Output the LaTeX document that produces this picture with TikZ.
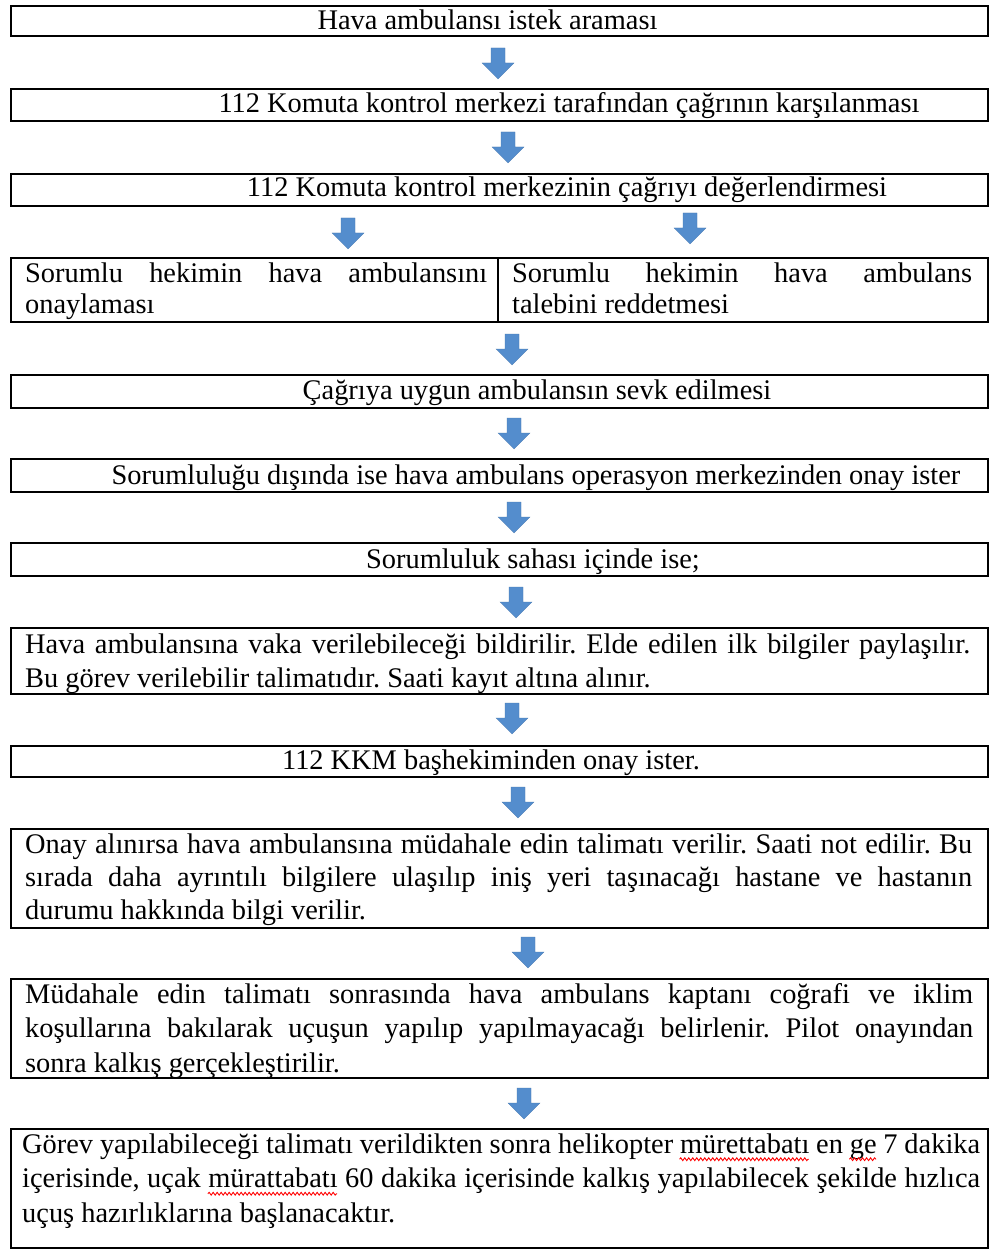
\documentclass[tikz,border=0pt]{standalone}
\usepackage{fontspec}
\setmainfont{Liberation Serif}
\usetikzlibrary{decorations.pathmorphing}
\definecolor{arrblue}{RGB}{84,141,205}
\newlength\sqw
\newcommand{\spellerr}[1]{\settowidth{\sqw}{#1}#1\llap{\tikz[baseline=0pt]\draw[red,line width=0.9pt,decorate,decoration={snake,amplitude=1.4pt,segment length=4pt}](0pt,-6pt)--(\sqw,-6pt);}}
\newcommand{\rs}{\spaceskip=0pt\xspaceskip=0pt\frenchspacing}
\newcommand{\jl}[2]{\makebox[#1][s]{\strut #2}}
\begin{document}
\begin{tikzpicture}[x=1pt,y=-1pt,
  box/.style={draw,line width=1.6pt,inner sep=0pt,anchor=north west},
  txt/.style={inner sep=0pt,font=\fontsize{28.4}{34}\selectfont,anchor=base},
  mtxt/.style={inner sep=0pt,anchor=north west,text width=965pt,align=left},
  darrow/.pic={\fill[arrblue,draw=arrblue!85!black,line width=0.3pt]
     (-7,0) -- (7,0) -- (7,15) -- (16,15) -- (0,31) -- (-16,15) -- (-7,15) -- cycle;}]
\useasboundingbox (0,0) rectangle (997,1249);
\fill[white] (0,0) rectangle (997,1249);
% boxes
\node[box,minimum width=977pt,minimum height=30pt] (b1) at (10,5) {};
\node[box,minimum width=977pt,minimum height=32pt] (b2) at (10,88) {};
\node[box,minimum width=977pt,minimum height=32pt] (b3) at (10,173) {};
\node[box,minimum width=487pt,minimum height=64pt] (b4l) at (10,257) {};
\node[box,minimum width=490pt,minimum height=64pt] (b4r) at (497,257) {};
\node[box,minimum width=977pt,minimum height=33pt] (b5) at (10,374) {};
\node[box,minimum width=977pt,minimum height=33pt] (b6) at (10,458) {};
\node[box,minimum width=977pt,minimum height=33pt] (b7) at (10,542) {};
\node[box,minimum width=977pt,minimum height=66pt] (b8) at (10,627) {};
\node[box,minimum width=977pt,minimum height=31pt] (b9) at (10,745) {};
\node[box,minimum width=977pt,minimum height=99pt] (b10) at (10,828) {};
\node[box,minimum width=977pt,minimum height=99pt] (b11) at (10,978) {};
\node[box,minimum width=977pt,minimum height=119pt] (b12) at (10,1128) {};
% single-line texts
\node[txt] (t1) at (487.5,30) {Hava ambulansı istek araması};
\node[txt] (t2) at (569,113) {112 Komuta kontrol merkezi tarafından çağrının karşılanması};
\node[txt] (t3) at (567,197) {112 Komuta kontrol merkezinin çağrıyı değerlendirmesi};
\node[txt] (t5) at (537,399) {Çağrıya uygun ambulansın sevk edilmesi};
\node[txt] (t6) at (536,484) {Sorumluluğu dışında ise hava ambulans operasyon merkezinden onay ister};
\node[txt] (t7) at (533,568) {Sorumluluk sahası içinde ise;};
\node[txt] (t9) at (491,769) {112 KKM başhekiminden onay ister.};
% multi-line texts
\node[mtxt,font=\fontsize{28.4}{31.5}\selectfont] (t4l) at (25,259.95)
  {\rs\jl{462pt}{Sorumlu hekimin hava ambulansını}\\\strut onaylaması};
\node[mtxt,font=\fontsize{28.4}{31.5}\selectfont] (t4r) at (512,259.95)
  {\rs\jl{460pt}{Sorumlu hekimin hava ambulans}\\\strut talebini reddetmesi};
\node[mtxt,font=\fontsize{28.4}{34}\selectfont] (t8) at (25,629.2)
  {\rs\jl{945pt}{Hava ambulansına vaka verilebileceği bildirilir. Elde edilen ilk bilgiler paylaşılır.}\\
   \strut Bu görev verilebilir talimatıdır. Saati kayıt altına alınır.};
\node[mtxt,font=\fontsize{28.4}{33}\selectfont] (t10) at (25,829.9)
  {\rs\jl{947pt}{Onay alınırsa hava ambulansına müdahale edin talimatı verilir. Saati not edilir. Bu}\\
   \jl{947pt}{sırada daha ayrıntılı bilgilere ulaşılıp iniş yeri taşınacağı hastane ve hastanın}\\
   \strut durumu hakkında bilgi verilir.};
\node[mtxt,font=\fontsize{28.4}{34.5}\selectfont] (t11) at (25,978.85)
  {\rs\jl{948pt}{Müdahale edin talimatı sonrasında hava ambulans kaptanı coğrafi ve iklim}\\
   \jl{948pt}{koşullarına bakılarak uçuşun yapılıp yapılmayacağı belirlenir. Pilot onayından}\\
   \strut sonra kalkış gerçekleştirilir.};
\node[mtxt,font=\fontsize{28.4}{34.5}\selectfont] (t12) at (22,1128.85)
  {\rs\jl{958pt}{Görev yapılabileceği talimatı verildikten sonra helikopter \spellerr{mürettabatı} en \spellerr{ge} 7 dakika}\\
   \jl{958pt}{içerisinde, uçak \spellerr{mürattabatı} 60 dakika içerisinde kalkış yapılabilecek şekilde hızlıca}\\
   \strut uçuş hazırlıklarına başlanacaktır.};
% arrows
\pic (a1) at (498,48) {darrow};
\pic (a2) at (508,132) {darrow};
\pic (a3l) at (348,218) {darrow};
\pic (a3r) at (690,213) {darrow};
\pic (a4) at (512,334) {darrow};
\pic (a5) at (514,418) {darrow};
\pic (a6) at (514,502) {darrow};
\pic (a7) at (516,587) {darrow};
\pic (a8) at (512,703) {darrow};
\pic (a9) at (518,787) {darrow};
\pic (a10) at (528,937) {darrow};
\pic (a11) at (524,1088) {darrow};
\end{tikzpicture}
\end{document}
